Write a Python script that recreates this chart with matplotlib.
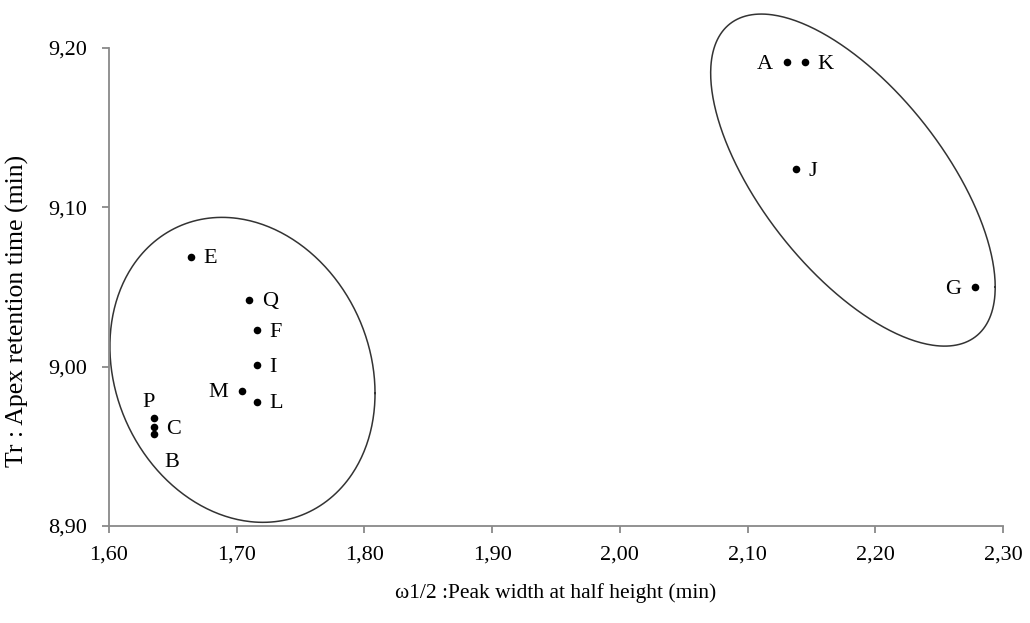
import numpy as np
import matplotlib
matplotlib.use("Agg")
import matplotlib.pyplot as plt

plt.rcParams['font.family'] = ['Liberation Serif', 'DejaVu Serif']

# Data
labels = ['A', 'K', 'J', 'G', 'E', 'Q', 'F', 'I', 'M', 'L', 'P', 'C', 'B']
peak_width = [2.131, 2.145, 2.138, 2.278, 1.664, 1.710, 1.716, 1.716, 1.704, 1.716, 1.635, 1.635, 1.635]
retention = [9.191, 9.191, 9.124, 9.050, 9.069, 9.042, 9.023, 9.001, 8.985, 8.978, 8.968, 8.962, 8.958]
label_pos = ['left', 'right', 'right', 'left', 'right', 'right', 'right', 'right', 'left', 'right',
             'above', 'right', 'below']

x_ticks = [1.60, 1.70, 1.80, 1.90, 2.00, 2.10, 2.20, 2.30]
y_ticks = [8.90, 9.00, 9.10, 9.20]

# Group ellipses: center x, center y, half-width x, half-height y, correlation
ellipses = [
    (1.7045, 8.998, 0.1038, 0.0957, -0.154),
    (2.1825, 9.1171, 0.1114, 0.1042, -0.644),
]

fig = plt.figure(figsize=(10.30, 6.23), dpi=100)
ax = fig.add_axes([109/1030, 1-526/623, (1003-109)/1030, (526-48)/623])

axis_color = '#898989'
ax.scatter(peak_width, retention, s=30, color='black', zorder=3, linewidths=0)

offsets = {'right': (9, -1.5, 'left', 'center'),
           'left': (-10, -1.5, 'right', 'center'),
           'above': (-4, 11, 'center', 'center'),
           'below': (13, -21, 'center', 'center')}
for lab, x, y, pos in zip(labels, peak_width, retention, label_pos):
    dx, dy, ha, va = offsets[pos]
    ax.annotate(lab, (x, y), xytext=(dx, dy), textcoords='offset points',
                ha=ha, va=va, fontsize=16, color='black')

t = np.linspace(0, 2*np.pi, 400)
for cx, cy, hx, hy, rho in ellipses:
    ex = cx + hx*np.cos(t)
    ey = cy + hy*(rho*np.cos(t) + np.sqrt(1-rho**2)*np.sin(t))
    ax.plot(ex, ey, color='#333333', lw=1.1, zorder=2, clip_on=False)

ax.set_xlim(1.60, 2.30)
ax.set_ylim(8.90, 9.20)
ax.set_xticks(x_ticks)
ax.set_yticks(y_ticks)
ax.set_xticklabels([f"{v:.2f}".replace('.', ',') for v in x_ticks])
ax.set_yticklabels([f"{v:.2f}".replace('.', ',') for v in y_ticks])

for s in ['top', 'right']:
    ax.spines[s].set_visible(False)
for s in ['left', 'bottom']:
    ax.spines[s].set_color(axis_color)
    ax.spines[s].set_linewidth(1.3)
ax.tick_params(axis='both', direction='out', length=5, width=1.3, color=axis_color,
               labelsize=16, labelcolor='black')
ax.tick_params(axis='y', pad=11)
ax.tick_params(axis='x', pad=9)

ax.set_xlabel('ω1/2 :Peak width at half height (min)', fontsize=15.5)
ax.set_ylabel('Tr : Apex retention time (min)', fontsize=18.5)
ax.xaxis.set_label_coords(0.5, -0.12)
ax.yaxis.set_label_coords(-0.09, 0.45)

fig.savefig('out.png', dpi=100)
